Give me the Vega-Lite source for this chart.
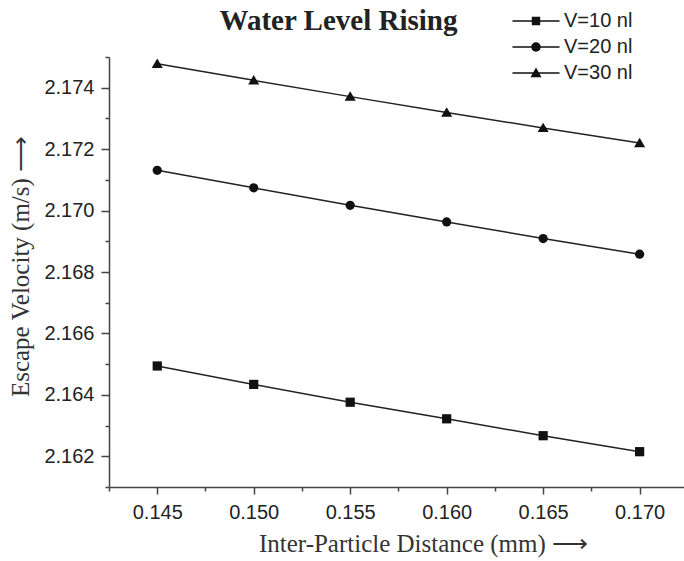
{
  "$schema": "https://vega.github.io/schema/vega-lite/v6.json",
  "width": 575,
  "height": 430,
  "autosize": {"type": "none"},
  "padding": {"left": 109, "top": 57, "right": 0, "bottom": 74},
  "background": "white",
  "data": {"values": [
    {"x": 0.145, "v": 2.16494, "series": "V=10 nl"},
    {"x": 0.150, "v": 2.16434, "series": "V=10 nl"},
    {"x": 0.155, "v": 2.16376, "series": "V=10 nl"},
    {"x": 0.160, "v": 2.16322, "series": "V=10 nl"},
    {"x": 0.165, "v": 2.16267, "series": "V=10 nl"},
    {"x": 0.170, "v": 2.16215, "series": "V=10 nl"},
    {"x": 0.145, "v": 2.17131, "series": "V=20 nl"},
    {"x": 0.150, "v": 2.17074, "series": "V=20 nl"},
    {"x": 0.155, "v": 2.17017, "series": "V=20 nl"},
    {"x": 0.160, "v": 2.16963, "series": "V=20 nl"},
    {"x": 0.165, "v": 2.16909, "series": "V=20 nl"},
    {"x": 0.170, "v": 2.16858, "series": "V=20 nl"},
    {"x": 0.145, "v": 2.17478, "series": "V=30 nl"},
    {"x": 0.150, "v": 2.17424, "series": "V=30 nl"},
    {"x": 0.155, "v": 2.17371, "series": "V=30 nl"},
    {"x": 0.160, "v": 2.17319, "series": "V=30 nl"},
    {"x": 0.165, "v": 2.17269, "series": "V=30 nl"},
    {"x": 0.170, "v": 2.17220, "series": "V=30 nl"}
  ]},
  "config": {
    "view": {"stroke": null},
    "axis": {
      "grid": false,
      "domainColor": "#444",
      "domainWidth": 1.5,
      "tickColor": "#444",
      "tickWidth": 1.5,
      "labelFont": "Liberation Sans",
      "labelFontSize": 20,
      "labelColor": "#222",
      "titleFont": "Liberation Serif",
      "titleFontSize": 25,
      "titleFontWeight": "normal",
      "titleColor": "#333"
    }
  },
  "layer": [
    {
      "mark": {"type": "line", "color": "#222", "strokeWidth": 1.5},
      "encoding": {
        "x": {
          "field": "x", "type": "quantitative",
          "scale": {"domain": [0.1425, 0.1723], "nice": false, "zero": false},
          "axis": {
            "orient": "bottom",
            "values": [0.145, 0.15, 0.155, 0.16, 0.165, 0.17],
            "format": ".3f",
            "tickSize": 7,
            "labelPadding": 8,
            "labelFlush": false,
            "labelOverlap": false,
            "title": "Inter-Particle Distance (mm)  ⟶",
            "titleX": 314,
            "titleY": 64,
            "titleBaseline": "alphabetic"
          }
        },
        "y": {
          "field": "v", "type": "quantitative",
          "scale": {"domain": [2.161, 2.175], "nice": false, "zero": false},
          "axis": {
            "orient": "left",
            "values": [2.162, 2.164, 2.166, 2.168, 2.170, 2.172, 2.174],
            "format": ".3f",
            "tickSize": 8,
            "labelPadding": 7,
            "labelFlush": false,
            "labelOverlap": false,
            "title": "Escape Velocity (m/s)  ⟶",
            "titleX": -81,
            "titleY": 209,
            "titleBaseline": "alphabetic"
          }
        },
        "detail": {"field": "series"}
      }
    },
    {
      "mark": {"type": "point", "filled": true, "color": "#111", "size": 85, "opacity": 1},
      "encoding": {
        "x": {"field": "x", "type": "quantitative",
          "axis": {"orient": "bottom", "values": [0.1425, 0.1475, 0.1525, 0.1575, 0.1625, 0.1675], "tickSize": 4, "labels": false, "domain": false, "title": null}},
        "y": {"field": "v", "type": "quantitative",
          "axis": {"orient": "left", "values": [2.161, 2.163, 2.165, 2.167, 2.169, 2.171, 2.173, 2.175], "tickSize": 4, "labels": false, "domain": false, "title": null}},
        "shape": {
          "field": "series", "type": "nominal",
          "scale": {"domain": ["V=10 nl", "V=20 nl", "V=30 nl"], "range": ["square", "circle", "M0,-1.15L1.2,0.9L-1.2,0.9Z"]},
          "legend": null
        }
      }
    },
    {
      "transform": [{"filter": "datum.x < 0"}],
      "mark": {"type": "point", "filled": true, "color": "#111", "size": 400, "opacity": 1},
      "encoding": {
        "x": {"field": "x", "type": "quantitative",
          "axis": {"orient": "top", "domain": false, "ticks": false, "labels": false,
            "title": "Water Level Rising", "titleFont": "Liberation Serif", "titleFontSize": 29, "titleFontWeight": "bold", "titleColor": "#222",
            "titleX": 229, "titleY": -28, "titleBaseline": "alphabetic", "titleAlign": "center", "titleAnchor": null}},
        "shape": {
          "field": "series", "type": "nominal",
          "scale": {
            "domain": ["V=10 nl", "V=20 nl", "V=30 nl"],
            "range": [
              "M-2.35,-0.07L2.35,-0.07L2.35,0.07L-2.35,0.07ZM-0.42,-0.42L0.42,-0.42L0.42,0.42L-0.42,0.42Z",
              "M-2.35,-0.07L2.35,-0.07L2.35,0.07L-2.35,0.07ZM-0.47,0A0.47,0.47,0,1,1,0.47,0A0.47,0.47,0,1,1,-0.47,0Z",
              "M-2.35,-0.07L2.35,-0.07L2.35,0.07L-2.35,0.07ZM0,-0.55L0.55,0.42L-0.55,0.42Z"
            ]
          },
          "legend": {
            "title": null,
            "orient": "none",
            "legendX": 417,
            "legendY": -46,
            "padding": 0,
            "symbolSize": 400,
            "symbolFillColor": "#111",
            "symbolStrokeWidth": 0,
            "symbolOpacity": 1,
            "labelFont": "Liberation Sans",
            "labelFontSize": 20,
            "labelColor": "#222",
            "labelOffset": 18,
            "rowPadding": 6
          }
        }
      }
    }
  ],
  "resolve": {"scale": {"shape": "independent"}, "axis": {"x": "independent", "y": "independent"}}
}
